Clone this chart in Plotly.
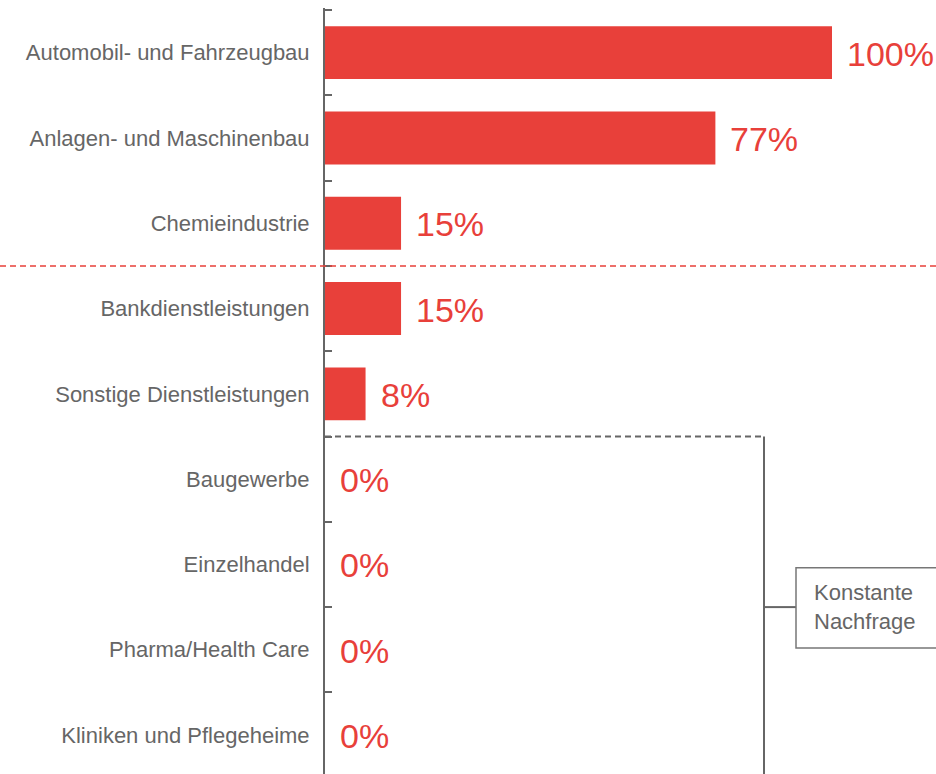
import plotly.graph_objects as go

categories = [
    "Automobil- und Fahrzeugbau",
    "Anlagen- und Maschinenbau",
    "Chemieindustrie",
    "Bankdienstleistungen",
    "Sonstige Dienstleistungen",
    "Baugewerbe",
    "Einzelhandel",
    "Pharma/Health Care",
    "Kliniken und Pflegeheime",
]
values = [100, 77, 15, 15, 8, 0, 0, 0, 0]
value_labels = ["100%", "77%", "15%", "15%", "8%", "0%", "0%", "0%", "0%"]
box_text = "Konstante<br>Nachfrage"

RED = "#E8403A"
GRAY = "#666666"
FONT = "Liberation Sans, Arial, sans-serif"

W, H = 936, 774
ML, MT = 325, 8
plot_w = W - ML
step = 85.3
x_max = 100 * plot_w / 507.0
y_top = -0.5 - 2 / step
y_bot = y_top + (H - MT) / step

fig = go.Figure()
fig.add_trace(go.Bar(
    x=values, y=categories, orientation="h",
    marker=dict(color=RED, line=dict(width=0)),
    hoverinfo="skip",
))

for v, c, t in zip(values, categories, value_labels):
    fig.add_annotation(
        x=v, y=c, text=t, showarrow=False, xanchor="left", yanchor="middle",
        xshift=13, yshift=-1, font=dict(size=34, color=RED, family=FONT),
    )

def px(xpix):
    return (xpix - ML) / plot_w

shapes = [
    dict(type="line", xref="paper", yref="y", x0=-ML / plot_w, x1=1.0, y0=2.5, y1=2.5,
         line=dict(color=RED, width=1.5, dash="6px,4px")),
    dict(type="line", xref="paper", yref="y", x0=0, x1=px(764), y0=4.5, y1=4.5,
         line=dict(color=GRAY, width=2, dash="6px,4px")),
    dict(type="line", xref="paper", yref="y", x0=px(764), x1=px(764), y0=4.5, y1=9.0,
         line=dict(color=GRAY, width=2)),
    dict(type="line", xref="paper", yref="y", x0=px(764), x1=px(796), y0=6.5, y1=6.5,
         line=dict(color=GRAY, width=2)),
    dict(type="rect", xref="paper", yref="y", x0=px(796), x1=px(945), y0=6.04, y1=6.98,
         line=dict(color="#777777", width=1.5), fillcolor="white"),
]

fig.add_annotation(
    xref="paper", yref="y", x=px(865), y=6.5, text=box_text, showarrow=False,
    xanchor="center", yanchor="middle", align="left",
    font=dict(size=22, color=GRAY, family=FONT),
)

fig.update_layout(
    width=W, height=H,
    margin=dict(l=ML, r=0, t=MT, b=0, autoexpand=False),
    plot_bgcolor="white", paper_bgcolor="white",
    showlegend=False, bargap=0.38,
    shapes=shapes,
    font=dict(family=FONT, color=GRAY),
    xaxis=dict(visible=False, range=[0, x_max], fixedrange=True),
    yaxis=dict(
        type="category", categoryorder="array", categoryarray=categories,
        range=[y_bot, y_top], autorange=False, fixedrange=True,
        showline=True, linecolor=GRAY, linewidth=2,
        ticks="inside", tickson="boundaries", ticklen=7, tickwidth=2, tickcolor=GRAY,
        showgrid=False, zeroline=False,
        tickfont=dict(size=22, color=GRAY, family=FONT),
        ticklabelstandoff=9,
    ),
)

fig.write_html(
    "out.html",
    config={"displayModeBar": False, "staticPlot": True},
    post_script="document.body.style.margin='0';document.body.style.overflow='hidden';",
)
